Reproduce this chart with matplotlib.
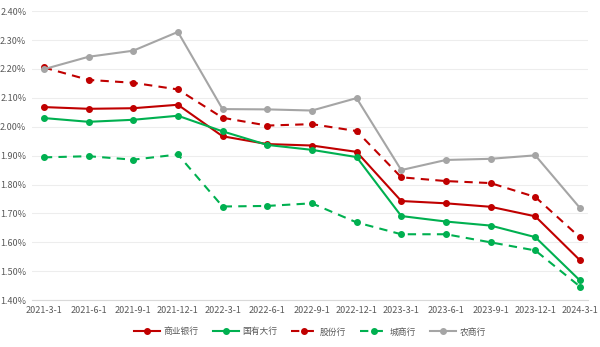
import matplotlib.pyplot as plt
import numpy as np

plt.rcParams['font.family'] = ['Noto Sans CJK SC', 'DejaVu Sans']

dates = ["2021-3-1", "2021-6-1", "2021-9-1", "2021-12-1", "2022-3-1", "2022-6-1",
         "2022-9-1", "2022-12-1", "2023-3-1", "2023-6-1", "2023-9-1", "2023-12-1", "2024-3-1"]

commercial = [2.068, 2.062, 2.064, 2.076, 1.967, 1.940, 1.935, 1.913, 1.743, 1.735, 1.723, 1.690, 1.538]
state_owned = [2.030, 2.017, 2.024, 2.038, 1.984, 1.937, 1.920, 1.895, 1.691, 1.672, 1.658, 1.618, 1.468]
joint_stock = [2.205, 2.162, 2.152, 2.129, 2.031, 2.004, 2.009, 1.985, 1.825, 1.812, 1.805, 1.757, 1.617]
city = [1.894, 1.898, 1.886, 1.904, 1.724, 1.726, 1.735, 1.669, 1.628, 1.628, 1.600, 1.572, 1.447]
rural = [2.199, 2.242, 2.263, 2.328, 2.061, 2.060, 2.056, 2.099, 1.850, 1.885, 1.889, 1.901, 1.719]

yticks = [1.40, 1.50, 1.60, 1.70, 1.80, 1.90, 2.00, 2.10, 2.20, 2.30, 2.40]


def main():
    fig = plt.figure(figsize=(6, 3.47), dpi=100)
    ax = fig.add_axes([0.053, 0.135, 0.927, 0.833])
    x = np.arange(len(dates))

    red = "#C00000"
    green = "#00B050"
    gray = "#A5A5A5"

    ax.plot(x, commercial, "-o", color=red, lw=1.5, ms=4, label="商业银行")
    ax.plot(x, state_owned, "-o", color=green, lw=1.5, ms=4, label="国有大行")
    ax.plot(x, joint_stock, "--o", color=red, lw=1.5, ms=4, dashes=(4, 3), label="股份行")
    ax.plot(x, city, "--o", color=green, lw=1.5, ms=4, dashes=(4, 3), label="城商行")
    ax.plot(x, rural, "-o", color=gray, lw=1.5, ms=4, label="农商行")

    ax.set_xlim(-0.27, 12.18)
    ax.set_ylim(1.40, 2.40)
    ax.set_yticks(yticks)
    ax.set_yticklabels([f"{v:.2f}%" for v in yticks])
    ax.set_xticks(x)
    ax.set_xticklabels(dates)
    ax.tick_params(axis="both", labelsize=6.5, colors="#595959", length=0, pad=4)

    ax.grid(axis="y", color="#EDEDED", lw=0.8)
    ax.set_axisbelow(True)
    for s in ["top", "right", "left"]:
        ax.spines[s].set_visible(False)
    ax.spines["bottom"].set_color("#D9D9D9")

    ax.legend(loc="center", bbox_to_anchor=(0.5, -0.11), ncol=5, frameon=False,
              fontsize=6.3, labelcolor="#595959", handlelength=3.0, columnspacing=1.6,
              handletextpad=0.35)

    fig.savefig("out.png", dpi=100)


if __name__ == "__main__":
    main()
